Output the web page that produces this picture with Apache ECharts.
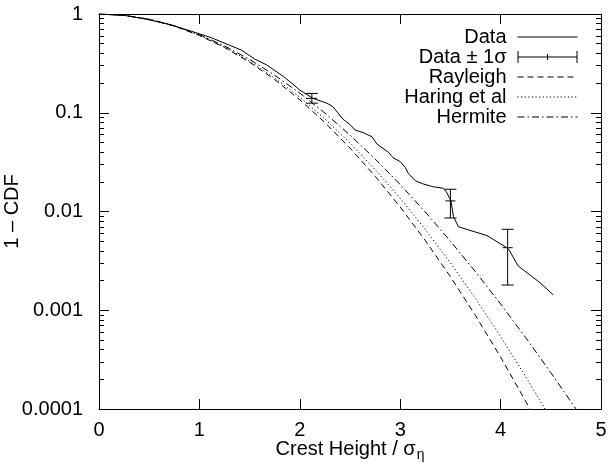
<!DOCTYPE html>
<html>
<head>
<meta charset="utf-8">
<script src="https://cdn.jsdelivr.net/npm/echarts@6/dist/echarts.min.js"></script>
<style>
html,body{margin:0;padding:0;background:#fff;}
#c{width:608px;height:466px;}
</style>
</head>
<body>
<div id="c"></div>
<script>
// ---- data ----
const dataX = [0, 0.25, 0.46, 0.69, 0.96, 1.12, 1.42, 1.55, 1.67, 1.84, 2.00, 2.13, 2.27, 2.33, 2.43, 2.50, 2.55, 2.63, 2.72, 2.77, 2.88, 2.93, 3.00, 3.05, 3.08, 3.15, 3.23, 3.33, 3.43, 3.46, 3.506, 3.53, 3.58, 3.865, 4.077, 4.176, 4.393, 4.525];
const dataY = [1.0, 0.97, 0.89, 0.79, 0.65, 0.575, 0.43, 0.35, 0.305, 0.232, 0.170, 0.140, 0.125, 0.115, 0.086, 0.076, 0.067, 0.063, 0.057, 0.048, 0.040, 0.035, 0.032, 0.028, 0.0244, 0.0205, 0.019, 0.0178, 0.0172, 0.0158, 0.0128, 0.0089, 0.0070, 0.0057, 0.0042, 0.0028, 0.0019, 0.00143];

const errX    = [2.12, 3.50, 4.07];
const errMid  = [0.140, 0.0128, 0.0043];
const errLow  = [0.125, 0.0086, 0.0018];
const errHigh = [0.157, 0.0168, 0.0066];

const theoX    = [0, 0.25, 0.5, 0.75, 1.0, 1.25, 1.5, 1.75, 2.0, 2.25, 2.5, 2.75, 3.0, 3.25, 3.5, 3.75, 4.0, 4.25, 4.5, 4.75, 5.0];
const rayleigh = [1, 0.9692, 0.8825, 0.7548, 0.6065, 0.4578, 0.3247, 0.2163, 0.1353, 0.0796, 0.0439, 0.02278, 0.01111, 0.005086, 0.002187, 0.000884, 0.000335, 0.0001197, 0.00004, 0.000013, 0.0000037];
const haring   = [1, 0.9693, 0.8833, 0.7572, 0.6111, 0.4646, 0.3330, 0.2251, 0.1437, 0.0866, 0.0494, 0.02664, 0.01360, 0.00658, 0.003017, 0.001313, 0.000542, 0.0002127, 0.0000793, 0.000028, 0.0000095];
const hermite  = [1, 0.9695, 0.8846, 0.7610, 0.6184, 0.4755, 0.3466, 0.2399, 0.1580, 0.09918, 0.05946, 0.03408, 0.01873, 0.009883, 0.005014, 0.002452, 0.001158, 0.000528, 0.0002336, 0.0001003, 0.0000418];

const xTicks = [0, 1, 2, 3, 4, 5];
const yTickLabels = ['0.0001', '0.001', '0.01', '0.1', '1'];
const yMajor = [0.0001, 0.001, 0.01, 0.1, 1];
const mantissas = [2, 3, 4, 5, 6, 7, 8, 9];
const decades = [0.0001, 0.001, 0.01, 0.1];

const legendNames = ['Data', 'Data \u00b1 1\u03c3', 'Rayleigh', 'Haring et al', 'Hermite'];

// ---- build ----
const yMinor = [];
decades.forEach(d => mantissas.forEach(m => yMinor.push(+(m * d).toPrecision(3))));

const zip = (a, b) => a.map((v, i) => [v, b[i]]);
const errData = errX.map((x, i) => [x, errMid[i], errLow[i], errHigh[i]]);

const FONT = 'Liberation Sans, Arial, Helvetica, sans-serif';
const FS = 20;
const black = '#000';

function yAxisDef(pos, minor) {
  return {
    type: 'log', logBase: 10, min: 0.0001, max: 1, position: pos,
    axisLine: { show: !minor, lineStyle: { color: black, width: 1 } },
    axisTick: minor
      ? { show: true, inside: true, length: 5, customValues: yMinor, lineStyle: { color: black } }
      : { show: true, inside: true, length: 10, customValues: yMajor, lineStyle: { color: black } },
    axisLabel: { show: false },
    splitLine: { show: false },
    minorTick: { show: false }
  };
}

const yAxes = [
  Object.assign(yAxisDef('left', false), {
    axisLabel: {
      show: true, customValues: yMajor, margin: 16, color: black, fontSize: FS, fontFamily: FONT,
      formatter: v => yTickLabels[Math.round(Math.log10(v)) + 4]
    },
    name: '1 \u2013 CDF', nameLocation: 'middle', nameGap: 77, nameRotate: 90,
    nameMoveOverlap: false,
    nameTextStyle: { color: black, fontSize: FS, fontFamily: FONT }
  }),
  yAxisDef('left', true),
  yAxisDef('right', false),
  yAxisDef('right', true)
];

const xBase = {
  type: 'value', min: 0, max: 5, interval: 1,
  axisLine: { show: true, lineStyle: { color: black, width: 1 } },
  axisTick: { show: true, inside: true, length: 10, lineStyle: { color: black } },
  splitLine: { show: false }
};

const chart = echarts.init(document.getElementById('c'), null, { renderer: 'canvas' });
const lineBase = { type: 'line', showSymbol: false, symbol: 'none', xAxisIndex: 0, yAxisIndex: 0, clip: true, z: 3 };
const noSym = { opacity: 0, color: 'rgba(0,0,0,0)', borderWidth: 0 };

chart.setOption({
  animation: false,
  backgroundColor: '#fff',
  textStyle: { fontFamily: FONT },
  grid: { left: 99, right: 7, top: 14, bottom: 57, containLabel: false, outerBoundsMode: 'none' },
  legend: {
    orient: 'vertical', right: 25, top: 22, align: 'right',
    itemWidth: 60, itemHeight: 12, itemGap: 0,
    selectedMode: false,
    textStyle: { color: black, fontSize: FS, fontFamily: FONT, padding: [0, 6, 0, 0] },
    lineStyle: { width: 1 },
    data: [
      { name: legendNames[0], itemStyle: noSym },
      { name: legendNames[1], icon: 'path://M0,5.5L60,5.5L60,6.5L0,6.5Z M0,0L1,0L1,12L0,12Z M59,0L60,0L60,12L59,12Z M29.5,3L30.5,3L30.5,9L29.5,9Z' },
      { name: legendNames[2], itemStyle: noSym },
      { name: legendNames[3], itemStyle: noSym },
      { name: legendNames[4], itemStyle: noSym }
    ]
  },
  xAxis: [
    Object.assign({}, xBase, {
      position: 'bottom',
      axisLabel: { show: true, margin: 11, color: black, fontSize: FS, fontFamily: FONT,
        customValues: xTicks },
      name: '{a|Crest Height / \u03c3}{b|\u03b7}',
      nameLocation: 'middle', nameGap: 30, nameMoveOverlap: false,
      nameTextStyle: {
        color: black, fontFamily: FONT,
        rich: {
          a: { fontSize: FS, lineHeight: 20, verticalAlign: 'top', color: black, fontFamily: FONT },
          b: { fontSize: 14, lineHeight: 14, verticalAlign: 'top', padding: [9, 0, 0, 1], color: black, fontFamily: FONT }
        }
      }
    }),
    Object.assign({}, xBase, { position: 'top', axisLabel: { show: false } })
  ],
  yAxis: yAxes,
  series: [
    Object.assign({}, lineBase, { name: legendNames[0], data: zip(dataX, dataY),
      lineStyle: { color: black, width: 1, type: 'solid' }, itemStyle: { color: black } }),
    {
      name: legendNames[1], type: 'custom', xAxisIndex: 0, yAxisIndex: 0, z: 4,
      itemStyle: { color: black },
      encode: { x: 0, y: 1 },
      data: errData,
      renderItem: function (params, api) {
        const x = api.value(0);
        const c = api.coord([x, api.value(1)]);
        const lo = api.coord([x, api.value(2)]);
        const hi = api.coord([x, api.value(3)]);
        const w = 6, wc = 5;
        const st = { stroke: black, lineWidth: 1 };
        return {
          type: 'group',
          children: [
            { type: 'line', shape: { x1: c[0], y1: lo[1], x2: c[0], y2: hi[1] }, style: st },
            { type: 'line', shape: { x1: c[0] - w, y1: lo[1], x2: c[0] + w, y2: lo[1] }, style: st },
            { type: 'line', shape: { x1: c[0] - w, y1: hi[1], x2: c[0] + w, y2: hi[1] }, style: st },
            { type: 'line', shape: { x1: c[0] - wc, y1: c[1], x2: c[0] + wc, y2: c[1] }, style: st }
          ]
        };
      }
    },
    Object.assign({}, lineBase, { name: legendNames[2], data: zip(theoX, rayleigh),
      lineStyle: { color: black, width: 1, type: [6, 4] }, itemStyle: { color: black } }),
    Object.assign({}, lineBase, { name: legendNames[3], data: zip(theoX, haring),
      lineStyle: { color: black, width: 1, type: [1.2, 2.4] }, itemStyle: { color: black } }),
    Object.assign({}, lineBase, { name: legendNames[4], data: zip(theoX, hermite),
      lineStyle: { color: black, width: 1, type: [7, 3, 1.5, 3] }, itemStyle: { color: black } })
  ]
});
</script>
</body>
</html>
